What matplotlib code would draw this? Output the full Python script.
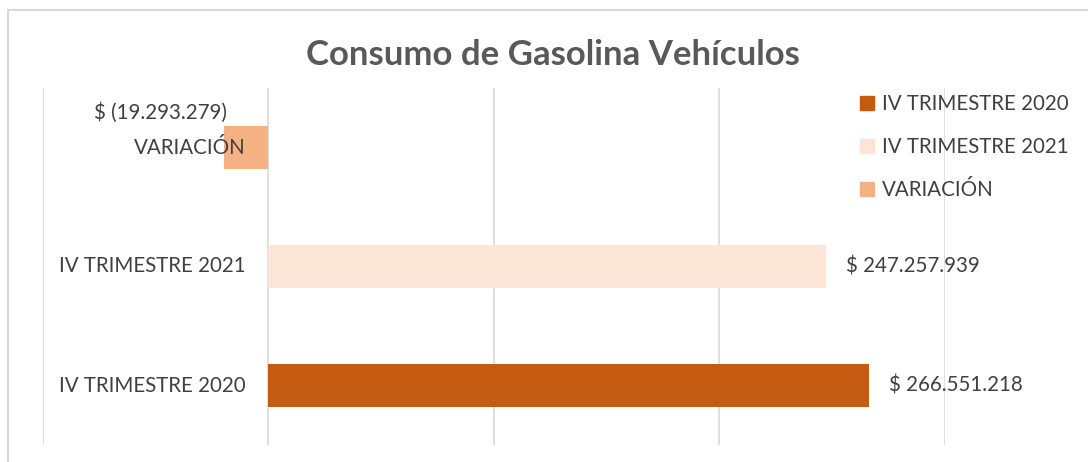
import matplotlib
matplotlib.use("Agg")
import matplotlib.pyplot as plt
from matplotlib.patches import Rectangle

plt.rcParams['font.family'] = ['Lato', 'DejaVu Sans']

# data
categories = ["IV TRIMESTRE 2020", "IV TRIMESTRE 2021", "VARIACIÓN"]
values = [266551218, 247257939, -19293279]
value_labels = ["$ 266.551.218", "$ 247.257.939", "$ (19.293.279)"]
colors = ["#C55A11", "#FBE5D6", "#F4B183"]

text_color = "#404040"
grid_color = "#D9D9D9"
fs = 14.8

fig = plt.figure(figsize=(10.88, 4.62), dpi=100)
# light chart border
fig.patches.append(Rectangle((8 / 1088, -0.1), 1.2, 1 - 10 / 462 + 0.1,
                             transform=fig.transFigure, fill=False,
                             edgecolor="#D9D9D9", linewidth=1.5))

ax = fig.add_axes([42.5 / 1088, 17 / 462, 902 / 1088, 357 / 462])
ypos = list(range(len(categories)))
ax.barh(ypos, values, height=0.36, color=colors, zorder=2)

ax.set_xlim(-100e6, 300e6)
ax.set_ylim(-0.5, 2.5)
ax.set_xticks([-100e6, 0, 100e6, 200e6, 300e6])
ax.xaxis.grid(True, color=grid_color, linewidth=1.2)
ax.set_axisbelow(True)
ax.tick_params(left=False, bottom=False, labelleft=False, labelbottom=False)
for s in ax.spines.values():
    s.set_visible(False)

# category labels next to the zero line
for y, cat in zip(ypos, categories):
    ax.text(-10e6, y, cat, ha="right", va="center", fontsize=fs,
            color=text_color, zorder=3)

# value labels
for y, v, lab in zip(ypos, values, value_labels):
    if v >= 0:
        ax.text(v + 9e6, y, lab, ha="left", va="center", fontsize=fs,
                color=text_color, zorder=3)
    else:
        ax.text(v + 1e6, y + 0.29, lab, ha="right", va="center", fontsize=fs,
                color=text_color, zorder=3)

fig.suptitle("Consumo de Gasolina Vehículos", x=0.508, y=1 - 55 / 462,
             va="center", fontsize=25, fontweight="bold", color="#595959")

handles = [Rectangle((0, 0), 1, 1, color=c) for c in colors]
fig.legend(handles, categories, loc="upper left", bbox_to_anchor=(860 / 1088, 1 - 94 / 462),
           frameon=False, fontsize=fs, labelcolor=text_color, handlelength=0.7,
           handleheight=0.7, handletextpad=0.35, labelspacing=1.12, borderaxespad=0,
           borderpad=0)

fig.savefig("out.png", dpi=100)
